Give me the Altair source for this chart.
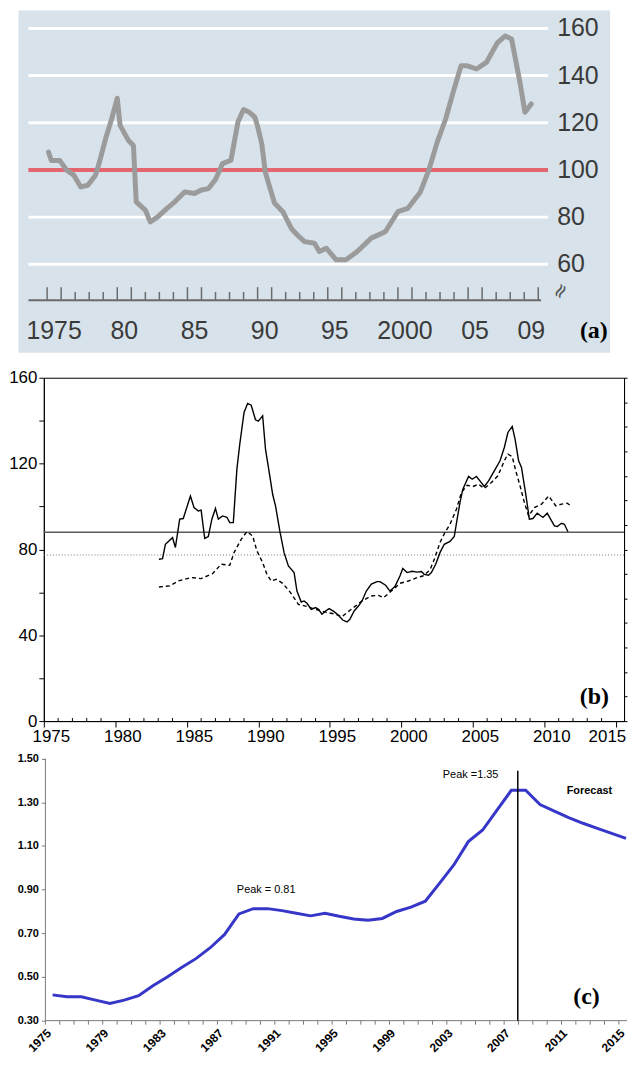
import altair as alt
import pandas as pd

# ---------------- panel (a) data ----------------
a_years = [1975.1, 1975.3, 1975.9, 1976.2, 1976.4, 1976.9, 1977.4, 1977.9, 1978.45, 1978.7,
           1979.2, 1979.6, 1980.0, 1980.2, 1980.8, 1981.15, 1981.35, 1982.0, 1982.35, 1982.9,
           1983.5, 1984.1, 1984.8, 1985.5, 1986.0, 1986.5, 1987.0, 1987.5, 1988.1, 1988.6,
           1989.0, 1989.4, 1989.8, 1990.0, 1990.3, 1990.55, 1990.8, 1991.2, 1991.8, 1992.4,
           1992.9, 1993.35, 1994.05, 1994.4, 1994.9, 1995.6, 1996.3, 1997.1, 1998.1, 1999.1,
           2000.0, 2000.7, 2001.6, 2002.2, 2002.8, 2003.4, 2004.0, 2004.5, 2004.9, 2005.6,
           2006.3, 2007.1, 2007.65, 2008.1, 2008.7, 2009.05, 2009.5]
a_values = [107.6, 104.0, 104.0, 101.5, 99.9, 97.8, 92.8, 93.5, 97.8, 102.7,
            113.9, 121.6, 130.4, 118.9, 112.5, 110.4, 86.5, 83.0, 78.0, 80.2,
            83.5, 86.5, 90.7, 90.0, 91.5, 92.1, 96.0, 102.7, 104.1, 120.3,
            125.6, 124.5, 122.4, 118.5, 111.0, 99.0, 94.0, 86.0, 82.3, 75.2,
            72.0, 69.6, 68.9, 65.4, 66.8, 61.9, 61.9, 65.4, 71.1, 73.8,
            82.3, 83.7, 90.7, 99.9, 111.8, 121.6, 134.3, 144.2, 144.2, 142.8,
            145.6, 154.0, 156.8, 155.5, 137.0, 124.5, 128.0]
a_grid_values = [60, 80, 120, 140, 160]
a_ref_value = [100]
a_right_labels = [160, 140, 120, 100, 80, 60]
a_label_years = [1975, 1980, 1985, 1990, 1995, 2000, 2005, 2009]
a_label_texts = ["1975", "80", "85", "90", "95", "2000", "05", "09"]
a_tick_years = list(range(1975, 2011))

# ---------------- panel (b) data ----------------
b_solid_years = [1983.05, 1983.3, 1983.5, 1984.0, 1984.2, 1984.5, 1984.75, 1985.25, 1985.5, 1985.8,
                 1986.0, 1986.25, 1986.5, 1986.75, 1987.0, 1987.2, 1987.5, 1987.8, 1988.0, 1988.25,
                 1988.5, 1988.7, 1989.0, 1989.25, 1989.5, 1989.8, 1990.0, 1990.3, 1990.5, 1990.8,
                 1991.0, 1991.2, 1991.5, 1991.8, 1992.1, 1992.5, 1992.7, 1993.0, 1993.2, 1993.4,
                 1993.7, 1994.0, 1994.2, 1994.45, 1994.7, 1994.95, 1995.3, 1995.6, 1995.9, 1996.2,
                 1996.4, 1996.7, 1997.0, 1997.25, 1997.55, 1997.9, 1998.3, 1998.5, 1998.9, 1999.2,
                 1999.55, 1999.9, 2000.1, 2000.4, 2000.75, 2001.1, 2001.4, 2001.6, 2001.9, 2002.1,
                 2002.4, 2002.7, 2003.0, 2003.4, 2003.7, 2003.9, 2004.1, 2004.3, 2004.7, 2004.95,
                 2005.25, 2005.55, 2005.8, 2006.1, 2006.5, 2006.9, 2007.2, 2007.45, 2007.75, 2007.95,
                 2008.2, 2008.4, 2008.7, 2008.95, 2009.2, 2009.5, 2009.9, 2010.2, 2010.7, 2010.9,
                 2011.2, 2011.4, 2011.65]
b_solid_values = [75.4, 75.7, 82.4, 85.5, 80.9, 94.1, 94.4, 104.9, 99.5, 97.9,
                  98.3, 85.1, 86.0, 94.1, 99.1, 94.1, 95.6, 95.0, 92.5, 92.5,
                  117.4, 129.0, 143.8, 148.0, 147.2, 140.4, 139.8, 142.3, 126.7, 114.3,
                  105.7, 100.3, 88.6, 78.5, 72.3, 69.2, 60.6, 55.5, 56.0, 54.9,
                  52.1, 52.9, 52.1, 49.8, 51.3, 52.4, 51.0, 49.3, 47.1, 46.2,
                  47.4, 51.3, 53.6, 56.0, 60.6, 63.8, 65.0, 65.0, 63.3, 60.6,
                  62.7, 67.6, 71.1, 69.2, 69.8, 69.4, 69.7, 68.4, 68.0, 69.2,
                  73.1, 78.5, 82.4, 83.7, 86.0, 94.1, 101.9, 108.1, 114.0, 112.7,
                  114.0, 111.5, 109.3, 111.9, 116.6, 121.3, 127.5, 134.5, 137.3, 131.4,
                  121.3, 118.2, 105.7, 94.1, 94.4, 96.9, 94.9, 96.9, 91.0, 90.7,
                  92.2, 91.7, 88.2]
b_dash_years = [1983.05, 1983.8, 1984.4, 1985.3, 1986.0, 1986.8, 1987.4, 1988.0, 1988.3, 1988.8,
                1989.2, 1989.6, 1989.9, 1990.3, 1990.6, 1990.9, 1991.25, 1991.7, 1992.25, 1992.8,
                1993.3, 1994.0, 1994.7, 1995.4, 1995.85, 1996.5, 1997.25, 1997.9, 1998.4, 1998.75,
                1999.3, 1999.9, 2000.5, 2001.1, 2001.5, 2002.0, 2002.35, 2002.7, 2003.05, 2003.4,
                2003.85, 2004.2, 2004.6, 2005.0, 2005.4, 2005.8, 2006.3, 2006.75, 2007.2, 2007.45,
                2007.75, 2008.0, 2008.3, 2008.6, 2008.9, 2009.3, 2009.8, 2010.3, 2010.8, 2011.2,
                2011.6, 2011.9]
b_dash_values = [62.5, 63.0, 65.3, 66.9, 66.4, 68.7, 73.1, 72.6, 78.5, 84.7,
                 88.3, 86.3, 79.3, 73.9, 68.4, 65.3, 66.1, 64.2, 59.9, 54.4,
                 53.6, 52.1, 50.8, 49.8, 48.7, 52.1, 56.0, 58.3, 58.6, 57.5,
                 60.6, 64.2, 65.3, 66.9, 67.6, 70.4, 76.2, 83.2, 87.9, 91.7,
                 98.7, 106.5, 109.9, 109.3, 110.4, 108.4, 111.2, 114.3, 121.3, 124.4,
                 123.3, 116.6, 109.6, 101.9, 95.6, 99.5, 101.1, 104.9, 100.3, 101.1,
                 101.5, 100.0]
b_solid_mean = [88.0]
b_dotted_mean = [77.4]
b_x_label_years = [1975, 1980, 1985, 1990, 1995, 2000, 2005, 2010, 2015]
b_y_tick_values = [0, 20, 40, 60, 80, 100, 120, 140, 160]
b_right_tick_values = [0, 0.5, 1, 1.5, 2, 2.5, 3, 3.5, 4, 4.5, 5, 5.5, 6, 6.5, 7]
b_minor_years = [y for y in range(1975, 2016) if y % 5 != 0]

# ---------------- panel (c) data ----------------
c_years = list(range(1975, 2016))
c_values = [0.418, 0.409, 0.409, 0.394, 0.379, 0.394, 0.414, 0.46, 0.50, 0.543,
            0.584, 0.634, 0.695, 0.789, 0.813, 0.813, 0.804, 0.792, 0.78, 0.792,
            0.778, 0.766, 0.76, 0.768, 0.80, 0.82, 0.847, 0.93, 1.014, 1.12,
            1.173, 1.264, 1.355, 1.355, 1.29, 1.26, 1.23, 1.204, 1.181, 1.158,
            1.135]
c_label_years = list(range(1975, 2016, 2))
c_y_ticks = [0.30, 0.50, 0.70, 0.90, 1.10, 1.30, 1.50]
c_boundaries = [y - 0.5 for y in range(1975, 2016)]
c_forecast_start = [2007.45]
c_ann_texts = ["Peak = 0.81", "Peak =1.35"]

# ---------------- styling constants ----------------
SANS = "Liberation Sans, Arial, sans-serif"
SERIF = "Liberation Serif, DejaVu Serif, serif"

# ================= panel (a) =================
xa = alt.Scale(domain=[1974.766, 2015.12], nice=False, zero=False)
ya = alt.Scale(domain=[22.45, 167.6], nice=False, zero=False)
A_BG_X0 = 1972.96
A_GRID_X0, A_GRID_X1 = 1973.67, 2010.7
A_AXIS_Y = 44.8
A_LABEL_Y = 31.7

bg_df = pd.DataFrame({"x0": [A_BG_X0], "x1": [2015.12], "y0": [22.45], "y1": [167.6]})
bg_a = alt.Chart(bg_df).mark_rect(color="#d7e2ea").encode(
    x=alt.X("x0:Q", scale=xa, axis=None), x2="x1:Q",
    y=alt.Y("y0:Q", scale=ya, axis=None), y2="y1:Q",
)
grid_df = pd.DataFrame({"v": a_grid_values, "x0": A_GRID_X0, "x1": A_GRID_X1})
grid_a = alt.Chart(grid_df).mark_rule(color="white", strokeWidth=3).encode(
    x=alt.X("x0:Q", scale=xa, axis=None), x2="x1:Q",
    y=alt.Y("v:Q", scale=ya, axis=None),
)
ref_df = pd.DataFrame({"v": a_ref_value, "x0": A_GRID_X0, "x1": A_GRID_X1})
ref_a = alt.Chart(ref_df).mark_rule(color="#e2656f", strokeWidth=4).encode(
    x=alt.X("x0:Q", scale=xa, axis=None), x2="x1:Q",
    y=alt.Y("v:Q", scale=ya, axis=None),
)
line_a = alt.Chart(pd.DataFrame({"year": a_years, "value": a_values})).mark_line(
    color="#9b9b9b", strokeWidth=5, strokeJoin="round", strokeCap="round"
).encode(
    x=alt.X("year:Q", scale=xa, axis=None),
    y=alt.Y("value:Q", scale=ya, axis=None),
)
axl_df = pd.DataFrame({"v": [A_AXIS_Y], "x0": A_GRID_X0, "x1": 2010.2})
axisline_a = alt.Chart(axl_df).mark_rule(color="#6b6b6b", strokeWidth=2).encode(
    x=alt.X("x0:Q", scale=xa, axis=None), x2="x1:Q",
    y=alt.Y("v:Q", scale=ya, axis=None),
)
tick_df = pd.DataFrame({
    "year": a_tick_years,
    "base": A_AXIS_Y,
    "top": [50.3 if (y % 5 in (0, 1)) else 48.3 for y in a_tick_years],
})
ticks_a = alt.Chart(tick_df).mark_rule(color="#6b6b6b", strokeWidth=1.5).encode(
    x=alt.X("year:Q", scale=xa, axis=None),
    y=alt.Y("base:Q", scale=ya, axis=None),
    y2="top:Q",
)
xlab_df = pd.DataFrame({"x": [y + 0.5 for y in a_label_years], "y": A_LABEL_Y,
                        "t": a_label_texts})
xlabels_a = alt.Chart(xlab_df).mark_text(
    font=SANS, fontSize=25, color="#3a3a3a", align="center", baseline="middle"
).encode(
    x=alt.X("x:Q", scale=xa, axis=None),
    y=alt.Y("y:Q", scale=ya, axis=None),
    text="t:N",
)
ylab_df = pd.DataFrame({"v": a_right_labels, "x": 2011.35,
                        "t": [str(v) for v in a_right_labels]})
ylabels_a = alt.Chart(ylab_df).mark_text(
    font=SANS, fontSize=25, color="#3a3a3a", align="left", baseline="middle"
).encode(
    x=alt.X("x:Q", scale=xa, axis=None),
    y=alt.Y("v:Q", scale=ya, axis=None),
    text="t:N",
)
brk_a = alt.Chart(pd.DataFrame({"t": ["≈"], "x": [2011.6], "y": [48.6]})).mark_text(
    font="DejaVu Sans", fontSize=20, color="#555555", angle=300, align="center", baseline="middle"
).encode(
    x=alt.X("x:Q", scale=xa, axis=None),
    y=alt.Y("y:Q", scale=ya, axis=None),
    text="t:N",
)
tag_a = alt.Chart(pd.DataFrame({"t": ["(a)"], "x": [2013.96], "y": [A_LABEL_Y]})).mark_text(
    font=SERIF, fontSize=24, fontWeight="bold", color="black", align="center", baseline="middle"
).encode(
    x=alt.X("x:Q", scale=xa, axis=None),
    y=alt.Y("y:Q", scale=ya, axis=None),
    text="t:N",
)
panel_a = alt.layer(
    bg_a, grid_a, ref_a, line_a, axisline_a, ticks_a, xlabels_a, ylabels_a, brk_a, tag_a
).properties(
    width=569, height=344,
    view=alt.ViewBackground(fill=None, strokeWidth=0),
)

# ================= panel (b) =================
B_W = 583
xb = alt.Scale(domain=[1975, 1975 + B_W / 14.37], nice=False, zero=False)
yb = alt.Scale(domain=[0, 160], nice=False, zero=False)

b_xaxis = alt.Axis(values=b_x_label_years, format="d", title=None, grid=False,
                   tickSize=6, tickColor="black", domainColor="black",
                   labelFont=SANS, labelFontSize=17, labelColor="black",
                   labelPadding=2,
                   labelOffset={"condition": {"test": "datum.value >= 2015", "value": -9},
                                "value": 7},
                   labelFlush=False, labelOverlap=False)
b_yaxis = alt.Axis(values=b_y_tick_values, title=None, grid=False,
                   labelExpr="datum.value % 40 == 0 ? datum.label : ''",
                   tickSize=5, tickColor="black", domainColor="black",
                   labelFont=SANS, labelFontSize=17, labelColor="black",
                   labelPadding=2)

solid_b = alt.Chart(pd.DataFrame({"year": b_solid_years, "value": b_solid_values})).mark_line(
    color="black", strokeWidth=1.4
).encode(
    x=alt.X("year:Q", scale=xb, axis=b_xaxis),
    y=alt.Y("value:Q", scale=yb, axis=b_yaxis),
)
dash_b = alt.Chart(pd.DataFrame({"year": b_dash_years, "value": b_dash_values})).mark_line(
    color="black", strokeWidth=1.4, strokeDash=[4, 3]
).encode(
    x=alt.X("year:Q", scale=xb),
    y=alt.Y("value:Q", scale=yb),
)
hsolid_b = alt.Chart(pd.DataFrame({"v": b_solid_mean})).mark_rule(
    color="#5a5a5a", strokeWidth=1.6
).encode(y=alt.Y("v:Q", scale=yb))
hdot_b = alt.Chart(pd.DataFrame({"v": b_dotted_mean})).mark_rule(
    color="#777777", strokeWidth=1, strokeDash=[1, 2]
).encode(y=alt.Y("v:Q", scale=yb))
minor_b = alt.Chart(pd.DataFrame({"year": b_minor_years, "y0": 0.0, "y1": 1.4})).mark_rule(
    color="black", strokeWidth=1
).encode(
    x=alt.X("year:Q", scale=xb),
    y=alt.Y("y0:Q", scale=yb),
    y2="y1:Q",
)
tag_b = alt.Chart(pd.DataFrame({"t": ["(b)"], "x": [2013.5], "y": [11.0]})).mark_text(
    font=SERIF, fontSize=24, fontWeight="bold", color="black", align="center", baseline="middle"
).encode(
    x=alt.X("x:Q", scale=xb),
    y=alt.Y("y:Q", scale=yb),
    text="t:N",
)
left_b = alt.layer(hsolid_b, hdot_b, dash_b, solid_b, minor_b, tag_b)
right_b = alt.Chart(pd.DataFrame({"r": [0.0], "x": [2000.0]})).mark_point(opacity=0).encode(
    x=alt.X("x:Q", scale=xb),
    y=alt.Y("r:Q", scale=alt.Scale(domain=[0, 7], nice=False, zero=False),
            axis=alt.Axis(orient="right", values=b_right_tick_values, labels=False,
                          tickSize=3, tickColor="black", domainColor="black",
                          grid=False, title=None, minExtent=3, maxExtent=3)),
)
panel_b = alt.layer(left_b, right_b).resolve_scale(y="independent").properties(
    width=B_W, height=345,
    view=alt.ViewBackground(fill="white", stroke="black", strokeWidth=1),
)

# ================= panel (c) =================
C_W = 586
C_H = 276
C_PX_PER_UNIT = 219.4
xc = alt.Scale(domain=[1974.39, 2015.07], nice=False, zero=False)
yc = alt.Scale(domain=[0.3, 0.3 + C_H / C_PX_PER_UNIT], nice=False, zero=False)
C_TICK_BOTTOM = 0.3 - 4 / C_PX_PER_UNIT

c_xaxis = alt.Axis(values=c_label_years, format="d", title=None, grid=False,
                   ticks=False, tickSize=0, domain=False,
                   labelAngle=-45, labelAlign="right", labelBaseline="bottom",
                   labelFont=SANS, labelFontSize=12, labelFontWeight="bold",
                   labelColor="black", labelPadding=15, labelOffset=1,
                   labelFlush=False, labelOverlap=False)
c_yaxis = alt.Axis(values=c_y_ticks, format=".2f", title=None, grid=False,
                   tickSize=4, tickColor="#7a7a7a", domain=False, offset=-1.6,
                   labelFont=SANS, labelFontSize=11, labelFontWeight="bold",
                   labelColor="black", labelPadding=3)

line_c = alt.Chart(pd.DataFrame({"year": c_years, "value": c_values})).mark_line(
    color="#3636c8", strokeWidth=3
).encode(
    x=alt.X("year:Q", scale=xc, axis=c_xaxis),
    y=alt.Y("value:Q", scale=yc, axis=c_yaxis),
)
yline_c = alt.Chart(pd.DataFrame({"x": [1974.5], "y0": [0.3], "y1": [1.5]})).mark_rule(
    color="#7a7a7a", strokeWidth=1
).encode(x=alt.X("x:Q", scale=xc), y=alt.Y("y0:Q", scale=yc), y2="y1:Q")
xline_c = alt.Chart(pd.DataFrame({"x0": [1974.5], "x1": [2015.07], "y": [0.3]})).mark_rule(
    color="#7a7a7a", strokeWidth=1
).encode(x=alt.X("x0:Q", scale=xc), x2="x1:Q", y=alt.Y("y:Q", scale=yc))
bticks_c = alt.Chart(pd.DataFrame({"b": c_boundaries, "y0": 0.3, "y1": C_TICK_BOTTOM})).mark_rule(
    color="#7a7a7a", strokeWidth=1
).encode(
    x=alt.X("b:Q", scale=xc),
    y=alt.Y("y0:Q", scale=yc),
    y2="y1:Q",
)
vline_c = alt.Chart(pd.DataFrame({"x": c_forecast_start, "y0": [0.3], "y1": [1.445]})).mark_rule(
    color="black", strokeWidth=1.5
).encode(
    x=alt.X("x:Q", scale=xc),
    y=alt.Y("y0:Q", scale=yc),
    y2="y1:Q",
)
ann_df = pd.DataFrame({"x": [1989.9, 2004.16], "y": [0.90, 1.424], "t": c_ann_texts})
ann_c = alt.Chart(ann_df).mark_text(
    font=SANS, fontSize=11, color="black", align="center", baseline="middle"
).encode(x=alt.X("x:Q", scale=xc), y=alt.Y("y:Q", scale=yc), text="t:N")
fc_c = alt.Chart(pd.DataFrame({"t": ["Forecast"], "x": [2012.45], "y": [1.353]})).mark_text(
    font=SANS, fontSize=11, fontWeight="bold", color="black", align="center", baseline="middle"
).encode(x=alt.X("x:Q", scale=xc), y=alt.Y("y:Q", scale=yc), text="t:N")
tag_c = alt.Chart(pd.DataFrame({"t": ["(c)"], "x": [2012.24], "y": [0.406]})).mark_text(
    font=SERIF, fontSize=24, fontWeight="bold", color="black", align="center", baseline="middle"
).encode(x=alt.X("x:Q", scale=xc), y=alt.Y("y:Q", scale=yc), text="t:N")

panel_c = alt.layer(line_c, yline_c, xline_c, bticks_c, vline_c, ann_c, fc_c, tag_c).properties(
    width=C_W, height=C_H,
    view=alt.ViewBackground(fill=None, strokeWidth=0),
)

chart = alt.vconcat(panel_a, panel_b, panel_c, spacing=25, bounds="flush").properties(
    padding=0, background="white"
)

chart.save("out.html", embed_options={"renderer": "svg", "actions": False})
